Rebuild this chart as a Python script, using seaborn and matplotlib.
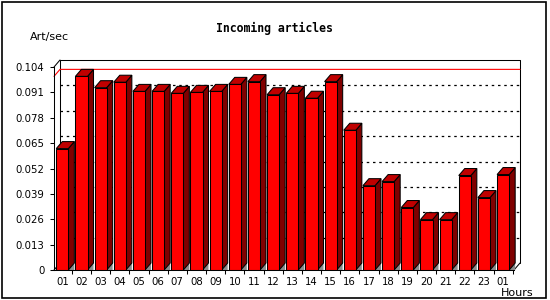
import numpy as np
import matplotlib
matplotlib.use("Agg")
import matplotlib.pyplot as plt
import seaborn as sns
from matplotlib.patches import Polygon, Rectangle
from matplotlib.lines import Line2D

hours = ["01", "02", "03", "04", "05", "06", "07", "08", "09", "10", "11", "12",
         "13", "14", "15", "16", "17", "18", "19", "20", "21", "22", "23", "01"]
rates = [0.0622, 0.0992, 0.0934, 0.0962, 0.0915, 0.0915, 0.0905, 0.0910,
         0.0915, 0.0951, 0.0965, 0.0898, 0.0905, 0.0880, 0.0965, 0.0716,
         0.0432, 0.0453, 0.0320, 0.0258, 0.0258, 0.0484, 0.0371, 0.0489]
y_ticks = [0, 0.013, 0.026, 0.039, 0.052, 0.065, 0.078, 0.091, 0.104]
y_tick_labels = ["0", "0.013", "0.026", "0.039", "0.052", "0.065", "0.078", "0.091", "0.104"]

sns.set_theme(style="white")
plt.rcParams['font.family'] = ['DejaVu Sans']

W, H = 550, 300
fig = plt.figure(figsize=(5.5, 3.0), dpi=100)
fig.patch.set_facecolor("white")


def fx(px):
    return px / W


def fy(py):
    return 1 - py / H


L, R, T, B = 54, 514, 67, 270
ax = fig.add_axes([fx(L), fy(B), fx(R) - fx(L), fy(T) - fy(B)])
pos = np.arange(len(rates))
sns.barplot(x=pos, y=rates, color="#ff0000", saturation=1, width=0.63,
            edgecolor="black", linewidth=0.75, errorbar=None, ax=ax, zorder=3)

xmin, xmax = -0.433, len(rates) - 0.433
ymax = y_ticks[-1]
ax.set_xlim(xmin, xmax)
ax.set_ylim(0, ymax)
ax.grid(False)

ux = (xmax - xmin) / (R - L)
uy = ymax / (B - T)
DX, DY = 6 * ux, 7 * uy

lw = 0.75
# back box
box_kw = dict(color="black", lw=lw, clip_on=False, zorder=1)
ax.add_line(Line2D([xmin + DX, xmin + DX, xmax + DX, xmax + DX],
                   [DY, ymax + DY, ymax + DY, DY], **box_kw))
ax.add_line(Line2D([xmin, xmin + DX], [ymax, ymax + DY], **box_kw))
ax.add_line(Line2D([xmax, xmax + DX], [0, DY], **box_kw))
ax.add_line(Line2D([xmin, xmin + DX], [0, DY], **box_kw))

# dotted gridlines on back wall
for yv in y_ticks[1:-1]:
    ax.add_line(Line2D([xmin + DX, xmax + DX], [yv + DY, yv + DY], color="black",
                       lw=0.9, linestyle=(0, (2, 3)), clip_on=False, zorder=1))

# max line
mx = max(rates)
ax.add_line(Line2D([xmin, xmin + DX, xmax + DX], [mx, mx + DY, mx + DY],
                   color="#ff0000", lw=0.8, clip_on=False, zorder=2))

# 3D faces
for p in list(ax.patches):
    x0, w, h = p.get_x(), p.get_width(), p.get_height()
    xr = x0 + w
    ax.add_patch(Polygon([(xr, 0), (xr + DX, DY), (xr + DX, 0)], closed=True,
                         facecolor="#8c8c8c", edgecolor="none", zorder=2.5, clip_on=False))
    ax.add_patch(Polygon([(xr, 0), (xr + DX, DY), (xr + DX, h + DY), (xr, h)], closed=True,
                         facecolor="#800000", edgecolor="black", lw=lw, zorder=2.8, clip_on=False))
    ax.add_patch(Polygon([(x0, h), (x0 + DX, h + DY), (xr + DX, h + DY), (xr, h)], closed=True,
                         facecolor="#c00000", edgecolor="black", lw=lw, zorder=2.8, clip_on=False))

# axes styling
for s in ["top", "right"]:
    ax.spines[s].set_visible(False)
for s in ["left", "bottom"]:
    ax.spines[s].set_color("black")
    ax.spines[s].set_linewidth(lw)
    ax.spines[s].set_zorder(4)

ax.set_yticks(y_ticks, y_tick_labels)
ax.set_xticks(pos, hours)
ax.set_xticks(np.arange(0.5, len(rates), 1), minor=True)
ax.tick_params(axis="y", which="major", left=True, direction="out", length=3,
               width=lw, color="black", pad=4, labelsize=7.3, labelcolor="black")
ax.tick_params(axis="x", which="major", bottom=True, length=0, pad=5,
               labelsize=7.3, labelcolor="black")
ax.tick_params(axis="x", which="minor", bottom=True, direction="out", length=3,
               width=lw, color="black")
ax.set_xlabel("")
ax.set_ylabel("")

fig.text(fx(274), fy(28), "Incoming articles", ha="center", va="center",
         family="DejaVu Sans Mono", weight="bold", size=8.3, color="black")
fig.text(fx(30), fy(37), "Art/sec", ha="left", va="center", size=8, color="black")
fig.text(fx(533), fy(293), "Hours", ha="right", va="center", size=8, color="black")

fig.add_artist(Rectangle((fx(1.5), fy(297.5)), fx(546) - fx(1.5), fy(1.5) - fy(297.5),
                         transform=fig.transFigure, fill=False, edgecolor="black", lw=1.2))

fig.savefig("out.png", dpi=100)
